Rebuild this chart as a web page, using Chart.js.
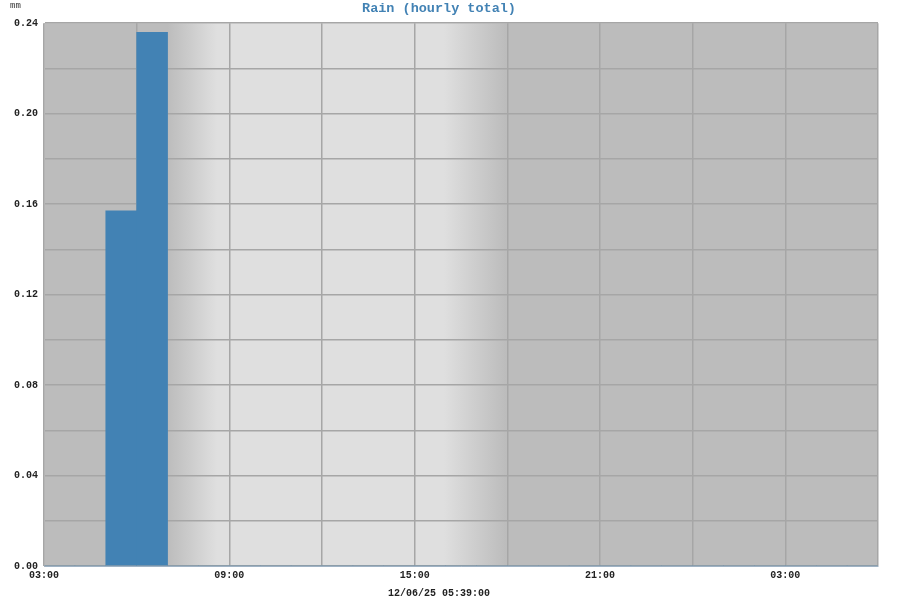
<!DOCTYPE html>
<html>
<head>
<meta charset="utf-8">
<script src="https://cdn.jsdelivr.net/npm/chart.js@4"></script>
<style>
  html, body { margin: 0; padding: 0; background: #fff; }
  #wrap { width: 900px; height: 600px; }
</style>
</head>
<body>
<div id="wrap"><canvas id="rainChart" width="900" height="600"></canvas></div>
<script>
// hourly slots, 03:00 through 05:00 next day (27 hours)
const hours = ['03:00', '04:00', '05:00', '06:00', '07:00', '08:00', '09:00', '10:00', '11:00',
    '12:00', '13:00', '14:00', '15:00', '16:00', '17:00', '18:00', '19:00', '20:00',
    '21:00', '22:00', '23:00', '00:00', '01:00', '02:00', '03:00', '04:00', '05:00'];
const rain = [0, 0, 0.157, 0.236, 0, 0, 0, 0, 0, 0, 0, 0, 0, 0, 0,
    0, 0, 0, 0, 0, 0, 0, 0, 0, 0, 0, 0];
const timeTicks = ['03:00', '09:00', '15:00', '21:00', '03:00'];
const yMax = 0.24;

// day/night shading, in hours after 03:00
const dawnStart = 4.0, dawnEnd = 5.6;
const duskStart = 12.95, duskEnd = 14.95;

const MONO = "'Liberation Mono', 'DejaVu Sans Mono', monospace";
const NIGHT = '#bcbcbc';
const DAY = '#dfdfdf';

const dayNightPlugin = {
    id: 'dayNight',
    beforeDraw(chart) {
        const ctx = chart.ctx;
        const area = chart.chartArea;
        const xs = chart.scales.x2;
        ctx.save();
        ctx.fillStyle = '#ffffff';
        ctx.fillRect(0, 0, chart.width, chart.height);
        const grad = ctx.createLinearGradient(area.left, 0, area.right, 0);
        const w = area.right - area.left;
        const stop = v => Math.min(1, Math.max(0, (xs.getPixelForValue(v) - area.left) / w));
        grad.addColorStop(0, NIGHT);
        grad.addColorStop(stop(dawnStart), NIGHT);
        grad.addColorStop(stop(dawnEnd), DAY);
        grad.addColorStop(stop(duskStart), DAY);
        grad.addColorStop(stop(duskEnd), NIGHT);
        grad.addColorStop(1, NIGHT);
        ctx.fillStyle = grad;
        ctx.fillRect(area.left, area.top, w, area.bottom - area.top);
        ctx.restore();
    },
    afterDraw(chart) {
        const ctx = chart.ctx;
        ctx.save();
        ctx.font = '9px ' + MONO;
        ctx.fillStyle = '#333';
        ctx.textBaseline = 'alphabetic';
        ctx.fillText('mm', 10, 8);
        ctx.restore();
    }
};

const ctxRain = document.getElementById('rainChart').getContext('2d');
const rainChart = new Chart(ctxRain, {
    type: 'bar',
    data: {
        labels: hours,
        datasets: [{
            label: 'Rain',
            data: rain,
            backgroundColor: '#4282b4',
            borderWidth: 0,
            barPercentage: 1,
            categoryPercentage: 1,
            xAxisID: 'x',
            yAxisID: 'y'
        }]
    },
    options: {
        responsive: false,
        animation: false,
        layout: { padding: { left: 0, right: 22, top: 0, bottom: 1 } },
        plugins: {
            legend: { display: false },
            tooltip: { enabled: false },
            title: {
                display: true,
                text: 'Rain (hourly total)',
                color: '#4282b4',
                font: { family: MONO, size: 13.5, weight: 'bold' },
                padding: { top: 0, bottom: 7 }
            },
            subtitle: {
                display: true,
                position: 'bottom',
                text: '12/06/25 05:39:00',
                color: '#222',
                font: { family: MONO, size: 10, weight: 'bold' },
                padding: { top: 0, bottom: 0 }
            }
        },
        scales: {
            x: {
                type: 'category',
                display: false,
                offset: true
            },
            x2: {
                type: 'linear',
                axis: 'x',
                position: 'bottom',
                offset: false,
                min: 0,
                max: hours.length,
                afterFit: scale => { scale.height = 21; },
                ticks: {
                    stepSize: 3,
                    autoSkip: false,
                    maxRotation: 0,
                    padding: 3,
                    color: '#222',
                    font: { family: MONO, size: 10, weight: 'bold' },
                    callback: value => (value % 6 === 0 ? timeTicks[value / 6] : '')
                },
                grid: { color: '#a6a6a6', lineWidth: 1.5, drawTicks: false, offset: false },
                border: { color: '#9fb2c4', width: 1 }
            },
            y: {
                min: 0,
                max: yMax,
                afterFit: scale => { scale.width = 44; },
                ticks: {
                    stepSize: 0.02,
                    padding: 6,
                    color: '#222',
                    font: { family: MONO, size: 10, weight: 'bold' },
                    callback: (value, index) => (index % 2 === 0 ? value.toFixed(2) : '')
                },
                grid: { color: '#a6a6a6', lineWidth: 1.5, drawTicks: false },
                border: { color: '#b4b4b4', width: 1 }
            }
        }
    },
    plugins: [dayNightPlugin]
});
</script>
</body>
</html>
